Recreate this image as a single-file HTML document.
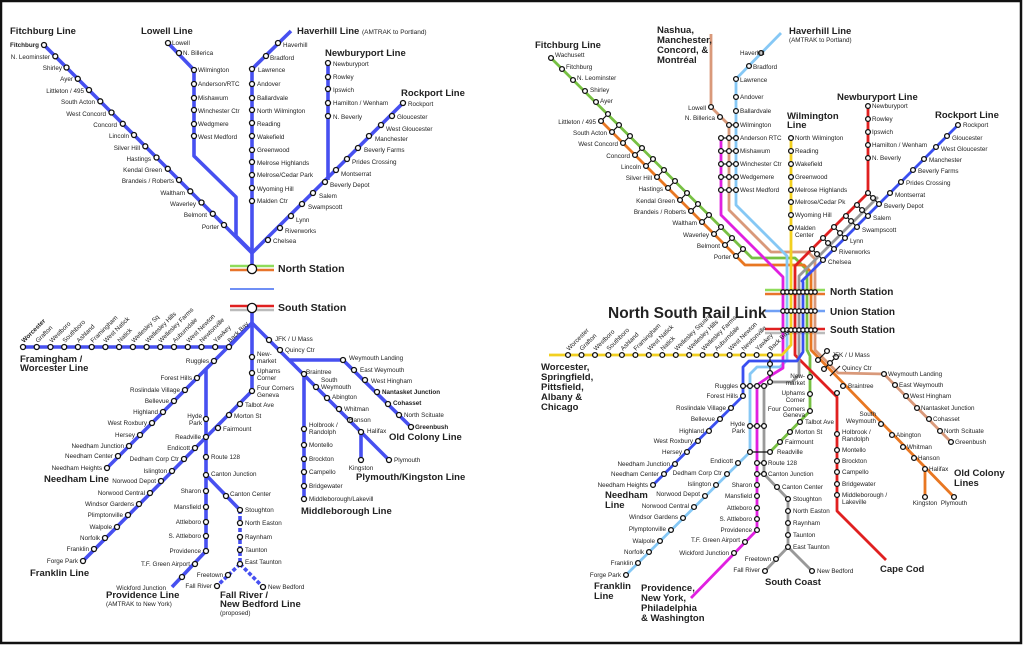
<!DOCTYPE html>
<html><head><meta charset="utf-8"><style>
html,body{margin:0;padding:0;background:#fff}
svg{display:block}
text{font-family:"Liberation Sans",sans-serif;fill:#222}
.t{font-size:6.3px}
.e{text-anchor:end}
.m{text-anchor:middle}
.h{font-size:9.5px;font-weight:bold}
.H{font-size:12px;font-weight:bold}
.L{fill:none;stroke:#4750f0;stroke-width:3.6;stroke-linejoin:round}
.R{fill:none;stroke-width:2.8;stroke-linejoin:round}
circle{fill:#fff;stroke:#111;stroke-width:1.3}
</style></head><body>
<svg width="1024" height="646" viewBox="0 0 1024 646" xmlns="http://www.w3.org/2000/svg">
<rect x="1" y="1" width="1020" height="642" fill="#fff" stroke="#111" stroke-width="2.5"/>

<!-- ============ LEFT MAP ============ -->
<g class="L">
<polyline points="44,45 252,253"/>
<polyline points="168,43 194,70 194,156 236,197 236,236 252,252"/>
<polyline points="291,31 252,69 252,270"/>
<polyline points="328,63 328,180"/>
<polyline points="403,103 252,253"/>
<polyline points="252,307 252,323"/>
<polyline points="22,347 229,347 252,323"/>
<polyline points="252,323 206,369 107,468"/>
<polyline points="206,369 206,551 172,587"/>
<polyline points="252,323 252,391 83,561"/>
<polyline points="206,475 240,510"/>
<polyline points="252,323 290,361 389,460"/>
<polyline points="290,360 343,360 411,427"/>
<polyline points="304,374 304,499"/>
<polyline points="361,432 361,460"/>
<polyline points="240,510 240,564 217,586" stroke-dasharray="4,2"/>
<polyline points="240,564 263,587" stroke-dasharray="4,2"/>
</g>
<line x1="230" y1="266" x2="274" y2="266" stroke="#8fdc5a" stroke-width="2.5"/>
<line x1="230" y1="270" x2="274" y2="270" stroke="#e8742a" stroke-width="2.5"/>
<line x1="230" y1="289" x2="274" y2="289" stroke="#6f8ff5" stroke-width="2"/>
<line x1="230" y1="306" x2="274" y2="306" stroke="#e02020" stroke-width="2.5"/>
<line x1="230" y1="310" x2="274" y2="310" stroke="#bbb" stroke-width="2.5"/>
<circle cx="252" cy="269" r="4.6" stroke-width="2"/>
<circle cx="252" cy="308" r="4.6" stroke-width="2"/>
<text x="278" y="272" class="h" style="font-size:10.5px">North Station</text>
<text x="278" y="311" class="h" style="font-size:10.5px">South Station</text>

<!-- left stations -->
<g>
<circle cx="44" cy="45" r="2.5"/><circle cx="55.3" cy="56.3" r="2.5"/><circle cx="66.5" cy="67.5" r="2.5"/><circle cx="77.8" cy="78.8" r="2.5"/><circle cx="89" cy="90" r="2.5"/><circle cx="100.3" cy="101.3" r="2.5"/><circle cx="111.5" cy="112.5" r="2.5"/><circle cx="122.8" cy="123.8" r="2.5"/><circle cx="134" cy="135" r="2.5"/><circle cx="145.3" cy="146.3" r="2.5"/><circle cx="156.5" cy="157.5" r="2.5"/><circle cx="167.8" cy="168.8" r="2.5"/><circle cx="179" cy="180" r="2.5"/><circle cx="190.3" cy="191.3" r="2.5"/><circle cx="201.5" cy="202.5" r="2.5"/><circle cx="212.8" cy="213.8" r="2.5"/><circle cx="224" cy="225" r="2.5"/>
<circle cx="168" cy="43" r="2.5"/><circle cx="179" cy="53" r="2.5"/><circle cx="194" cy="70" r="2.5"/><circle cx="194" cy="84" r="2.5"/><circle cx="194" cy="98" r="2.5"/><circle cx="194" cy="110" r="2.5"/><circle cx="194" cy="124" r="2.5"/><circle cx="194" cy="136" r="2.5"/>
<circle cx="278" cy="43" r="2.5"/><circle cx="266" cy="56" r="2.5"/><circle cx="252" cy="69" r="2.5"/><circle cx="252" cy="84" r="2.5"/><circle cx="252" cy="98" r="2.5"/><circle cx="252" cy="110" r="2.5"/><circle cx="252" cy="123" r="2.5"/><circle cx="252" cy="136" r="2.5"/><circle cx="252" cy="150" r="2.5"/><circle cx="252" cy="162" r="2.5"/><circle cx="252" cy="175" r="2.5"/><circle cx="252" cy="188" r="2.5"/><circle cx="252" cy="201" r="2.5"/>
<circle cx="328" cy="63" r="2.5"/><circle cx="328" cy="77" r="2.5"/><circle cx="328" cy="89" r="2.5"/><circle cx="328" cy="103" r="2.5"/><circle cx="328" cy="116" r="2.5"/>
<circle cx="403" cy="103" r="2.5"/><circle cx="392" cy="116" r="2.5"/><circle cx="381" cy="125" r="2.5"/><circle cx="369" cy="136" r="2.5"/><circle cx="358" cy="148" r="2.5"/><circle cx="347" cy="159" r="2.5"/><circle cx="336" cy="170" r="2.5"/><circle cx="325" cy="182" r="2.5"/><circle cx="313" cy="193" r="2.5"/><circle cx="302" cy="204" r="2.5"/><circle cx="291" cy="216" r="2.5"/><circle cx="280" cy="228" r="2.5"/><circle cx="268" cy="240" r="2.5"/>
<!-- worcester -->
<circle cx="23" cy="347" r="2.5"/><circle cx="36.7" cy="347" r="2.5"/><circle cx="50.5" cy="347" r="2.5"/><circle cx="64.2" cy="347" r="2.5"/><circle cx="77.9" cy="347" r="2.5"/><circle cx="91.7" cy="347" r="2.5"/><circle cx="105.4" cy="347" r="2.5"/><circle cx="119.1" cy="347" r="2.5"/><circle cx="132.9" cy="347" r="2.5"/><circle cx="146.6" cy="347" r="2.5"/><circle cx="160.3" cy="347" r="2.5"/><circle cx="174" cy="347" r="2.5"/><circle cx="187.8" cy="347" r="2.5"/><circle cx="201.5" cy="347" r="2.5"/><circle cx="215.2" cy="347" r="2.5"/><circle cx="229" cy="347" r="2.5"/>
<!-- needham -->
<circle cx="214" cy="361" r="2.5"/><circle cx="197" cy="378" r="2.5"/><circle cx="185" cy="390" r="2.5"/><circle cx="174" cy="401" r="2.5"/><circle cx="163" cy="412" r="2.5"/><circle cx="152" cy="423" r="2.5"/><circle cx="140" cy="435" r="2.5"/><circle cx="129" cy="446" r="2.5"/><circle cx="118" cy="456" r="2.5"/><circle cx="107" cy="468" r="2.5"/>
<!-- providence -->
<circle cx="206" cy="419" r="2.5"/><circle cx="206" cy="437" r="2.5"/><circle cx="206" cy="457" r="2.5"/><circle cx="206" cy="475" r="2.5"/><circle cx="206" cy="491" r="2.5"/><circle cx="206" cy="507" r="2.5"/><circle cx="206" cy="522" r="2.5"/><circle cx="206" cy="536" r="2.5"/><circle cx="206" cy="551" r="2.5"/><circle cx="195" cy="564" r="2.5"/><circle cx="182" cy="577" r="2.5"/>
<!-- fairmount/franklin -->
<circle cx="252" cy="357" r="2.5"/><circle cx="252" cy="373" r="2.5"/><circle cx="252" cy="391" r="2.5"/><circle cx="240" cy="404" r="2.5"/><circle cx="229" cy="415" r="2.5"/><circle cx="218" cy="428" r="2.5"/><circle cx="195" cy="448" r="2.5"/><circle cx="184" cy="459" r="2.5"/><circle cx="172" cy="471" r="2.5"/><circle cx="161" cy="481" r="2.5"/><circle cx="150" cy="493" r="2.5"/><circle cx="139" cy="504" r="2.5"/><circle cx="128" cy="515" r="2.5"/><circle cx="117" cy="527" r="2.5"/><circle cx="105" cy="538" r="2.5"/><circle cx="94" cy="549" r="2.5"/><circle cx="83" cy="561" r="2.5"/>
<!-- fall river -->
<circle cx="226" cy="496" r="2.5"/><circle cx="240" cy="510" r="2.5"/><circle cx="240" cy="523" r="2.5"/><circle cx="240" cy="537" r="2.5"/><circle cx="240" cy="550" r="2.5"/><circle cx="240" cy="564" r="2.5"/><circle cx="228" cy="575" r="2.5"/><circle cx="217" cy="586" r="2.5"/><circle cx="263" cy="587" r="2.5"/>
<!-- old colony -->
<circle cx="269" cy="340" r="2.5"/><circle cx="280" cy="350" r="2.5"/><circle cx="343" cy="360" r="2.5"/><circle cx="354" cy="370" r="2.5"/><circle cx="365" cy="380" r="2.5"/><circle cx="377" cy="392" r="2.5"/><circle cx="388" cy="404" r="2.5"/><circle cx="399" cy="415" r="2.5"/><circle cx="411" cy="427" r="2.5"/>
<circle cx="304" cy="374" r="2.5"/><circle cx="316" cy="387" r="2.5"/><circle cx="327" cy="398" r="2.5"/><circle cx="339" cy="409" r="2.5"/><circle cx="350" cy="420" r="2.5"/><circle cx="361" cy="432" r="2.5"/><circle cx="389" cy="460" r="2.5"/><circle cx="361" cy="460" r="2.5"/>
<circle cx="304" cy="429" r="2.5"/><circle cx="304" cy="445" r="2.5"/><circle cx="304" cy="459" r="2.5"/><circle cx="304" cy="472" r="2.5"/><circle cx="304" cy="486" r="2.5"/><circle cx="304" cy="499" r="2.5"/>
</g>

<!-- left labels -->
<text x="10" y="34" class="h">Fitchburg Line</text>
<text x="141" y="34" class="h">Lowell Line</text>
<text x="297" y="34" class="h">Haverhill Line <tspan style="font-size:6.5px;font-weight:normal">(AMTRAK to Portland)</tspan></text>
<text x="325" y="56" class="h">Newburyport Line</text>
<text x="401" y="96" class="h">Rockport Line</text>
<g class="t e">
<text x="39" y="47" style="font-weight:bold">Fitchburg</text><text x="50" y="59">N. Leominster</text><text x="62" y="70">Shirley</text><text x="73" y="81">Ayer</text><text x="84" y="93">Littleton / 495</text><text x="95" y="104">South Acton</text><text x="106" y="116">West Concord</text><text x="117" y="127">Concord</text><text x="129" y="138">Lincoln</text><text x="140" y="150">Silver Hill</text><text x="151" y="161">Hastings</text><text x="162" y="172">Kendal Green</text><text x="174" y="183">Brandeis / Roberts</text><text x="185" y="195">Waltham</text><text x="196" y="206">Waverley</text><text x="207" y="217">Belmont</text><text x="219" y="229">Porter</text>
</g>
<g class="t">
<text x="172" y="45">Lowell</text><text x="183" y="55">N. Billerica</text>
<text x="198" y="72">Wilmington</text><text x="198" y="86">Anderson/RTC</text><text x="198" y="100">Mishawum</text><text x="198" y="113">Winchester Ctr</text><text x="198" y="126">Wedgmere</text><text x="198" y="139">West Medford</text>
<text x="283" y="47">Haverhill</text><text x="270" y="60">Bradford</text>
<text x="258" y="72">Lawrence</text><text x="257" y="86">Andover</text><text x="257" y="100">Ballardvale</text><text x="257" y="113">North Wilmington</text><text x="257" y="126">Reading</text><text x="257" y="139">Wakefield</text><text x="257" y="152">Greenwood</text><text x="257" y="165">Melrose Highlands</text><text x="257" y="177">Melrose/Cedar Park</text><text x="257" y="191">Wyoming Hill</text><text x="257" y="203">Malden Ctr</text>
<text x="333" y="66">Newburyport</text><text x="333" y="79">Rowley</text><text x="333" y="92">Ipswich</text><text x="333" y="105">Hamilton / Wenham</text><text x="333" y="119">N. Beverly</text>
<text x="408" y="106">Rockport</text><text x="397" y="119">Gloucester</text><text x="386" y="131">West Gloucester</text><text x="375" y="141">Manchester</text><text x="364" y="152">Beverly Farms</text><text x="352" y="164">Prides Crossing</text><text x="341" y="176">Montserrat</text><text x="330" y="187">Beverly Depot</text><text x="319" y="198">Salem</text><text x="308" y="209">Swampscott</text><text x="296" y="222">Lynn</text><text x="285" y="233">Riverworks</text><text x="273" y="243">Chelsea</text>
</g>
<!-- worcester rotated -->
<g class="t">
<text transform="translate(24,343) rotate(-45)" style="font-weight:bold">Worcester</text>
<text transform="translate(38,343) rotate(-45)">Grafton</text>
<text transform="translate(52,343) rotate(-45)">Westboro</text>
<text transform="translate(65,343) rotate(-45)">Southboro</text>
<text transform="translate(79,343) rotate(-45)">Ashland</text>
<text transform="translate(93,343) rotate(-45)">Framingham</text>
<text transform="translate(106,343) rotate(-45)">West Natick</text>
<text transform="translate(120,343) rotate(-45)">Natick</text>
<text transform="translate(134,343) rotate(-45)">Wellesley Sq</text>
<text transform="translate(148,343) rotate(-45)">Wellesley Hills</text>
<text transform="translate(161,343) rotate(-45)">Wellesley Farms</text>
<text transform="translate(175,343) rotate(-45)">Auburndale</text>
<text transform="translate(189,343) rotate(-45)">West Newton</text>
<text transform="translate(202,343) rotate(-45)">Newtonville</text>
<text transform="translate(216,343) rotate(-45)">Yawkey</text>
<text transform="translate(230,343) rotate(-45)">Back Bay</text>
</g>
<text x="20" y="362" class="h">Framingham /</text>
<text x="20" y="371" class="h">Worcester Line</text>
<g class="t e">
<text x="209" y="363">Ruggles</text><text x="192" y="380">Forest Hills</text><text x="180" y="392">Roslindale Village</text><text x="169" y="403">Bellevue</text><text x="158" y="414">Highland</text><text x="147" y="425">West Roxbury</text><text x="135" y="437">Hersey</text><text x="124" y="448">Needham Junction</text><text x="113" y="458">Needham Center</text><text x="102" y="470">Needham Heights</text>
<text x="202" y="418">Hyde</text><text x="202" y="425">Park</text><text x="201" y="439">Readville</text><text x="190" y="450">Endicott</text><text x="179" y="461">Dedham Corp Ctr</text><text x="167" y="473">Islington</text><text x="156" y="483">Norwood Depot</text><text x="145" y="495">Norwood Central</text><text x="134" y="506">Windsor Gardens</text><text x="123" y="517">Plimptonville</text><text x="112" y="529">Walpole</text><text x="100" y="540">Norfolk</text><text x="89" y="551">Franklin</text><text x="78" y="563">Forge Park</text>
<text x="201" y="493">Sharon</text><text x="201" y="509">Mansfield</text><text x="201" y="524">Attleboro</text><text x="201" y="538">S. Attleboro</text><text x="201" y="553">Providence</text><text x="190" y="566">T.F. Green Airport</text><text x="166" y="590">Wickford Junction</text>
<text x="223" y="577">Freetown</text><text x="212" y="588">Fall River</text>
</g>
<g class="t">
<text x="257" y="356">New-</text><text x="257" y="363">market</text><text x="257" y="373">Uphams</text><text x="257" y="380">Corner</text><text x="257" y="390">Four Corners</text><text x="257" y="397">Geneva</text><text x="245" y="407">Talbot Ave</text><text x="234" y="418">Morton St</text><text x="223" y="431">Fairmount</text>
<text x="211" y="459">Route 128</text><text x="211" y="476">Canton Junction</text><text x="230" y="496">Canton Center</text><text x="245" y="512">Stoughton</text><text x="245" y="525">North Easton</text><text x="245" y="539">Raynham</text><text x="245" y="552">Taunton</text><text x="245" y="564">East Taunton</text><text x="268" y="589">New Bedford</text>
<text x="275" y="341">JFK / U Mass</text><text x="285" y="352">Quincy Ctr</text><text x="349" y="360">Weymouth Landing</text><text x="360" y="372">East Weymouth</text><text x="371" y="383">West Hingham</text><text x="382" y="394" style="font-weight:bold">Nantasket Junction</text><text x="393" y="405" style="font-weight:bold">Cohasset</text><text x="404" y="417">North Scituate</text><text x="415" y="429" style="font-weight:bold">Greenbush</text>
<text x="306" y="374">Braintree</text><text x="321" y="382">South</text><text x="321" y="389">Weymouth</text><text x="332" y="399">Abington</text><text x="344" y="411">Whitman</text><text x="349" y="422">Hanson</text><text x="367" y="433">Halifax</text><text x="394" y="462">Plymouth</text><text x="361" y="470" class="m">Kingston</text>
<text x="309" y="427">Holbrook /</text><text x="309" y="434">Randolph</text><text x="309" y="447">Montello</text><text x="309" y="461">Brockton</text><text x="309" y="474">Campello</text><text x="309" y="488">Bridgewater</text><text x="309" y="501">Middleborough/Lakevill</text>
</g>
<text x="44" y="482" class="h">Needham Line</text>
<text x="30" y="576" class="h">Franklin Line</text>
<text x="106" y="598" class="h">Providence Line</text>
<text x="106" y="606" class="t">(AMTRAK to New York)</text>
<text x="220" y="598" class="h">Fall River /</text>
<text x="220" y="607" class="h">New Bedford Line</text>
<text x="220" y="615" class="t">(proposed)</text>
<text x="389" y="440" class="h">Old Colony Line</text>
<text x="356" y="480" class="h">Plymouth/Kingston Line</text>
<text x="301" y="514" class="h">Middleborough Line</text>

<!-- ============ RIGHT MAP ============ -->
<!-- station horizontal strips -->
<line x1="765" y1="290" x2="825" y2="290" stroke="#8fdc5a" stroke-width="2.5"/>
<line x1="765" y1="294" x2="825" y2="294" stroke="#e8742a" stroke-width="2.5"/>
<line x1="765" y1="311" x2="825" y2="311" stroke="#70a0f5" stroke-width="2.5"/>
<line x1="765" y1="329" x2="825" y2="329" stroke="#e02020" stroke-width="2.5"/>
<line x1="765" y1="333" x2="825" y2="333" stroke="#bbb" stroke-width="2.5"/>
<g class="R">
<polyline stroke="#77c043" points="551,58 752,258 795,258 807,270 807,350 810,356 810,411 770,452"/>
<polyline stroke="#e87722" points="601,121 745,265 804,265 811,272 811,350 954,497"/>
<line stroke="#e87722" x1="925" y1="469" x2="925" y2="497"/>
<polyline stroke="#d9997a" points="711,34 711,107 729,125 729,210 771,252 808,252 815,259 815,350 838,373 884,374 951,442"/>
<polyline stroke="#86c8f5" points="781,33 736,79 736,205 787,256 787,360 780,367 757,367 750,374 750,452 626,575"/>
<polyline stroke="#e020e0" points="721,138 721,215 783,277 783,368 770,376 757,385 757,530 691,598"/>
<polyline stroke="#f2d020" points="791,138 791,345 782,355 549,355"/>
<polyline stroke="#e02020" points="868,106 868,193 795,266 795,355 837,397 837,511 886,560"/>
<polyline stroke="#999" points="878,197 799,276 799,375 792,382 770,382 764,388 764,474 788,499 788,547 765,571"/>
<line stroke="#999" x1="788" y1="547" x2="812" y2="571"/>
<polyline stroke="#3a4ff0" points="958,125 802,281 803,282 803,352 797,361 749,361 743,367 743,396 653,485"/>
</g>
<!-- connectors -->
<g stroke="#111" stroke-width="1.2">
<line x1="601" y1="121" x2="608" y2="114"/><line x1="612" y1="132" x2="619" y2="125"/><line x1="623" y1="143" x2="630" y2="136"/><line x1="635" y1="155" x2="642" y2="148"/><line x1="646" y1="166" x2="653" y2="159"/><line x1="657" y1="177" x2="664" y2="170"/><line x1="668" y1="188" x2="675" y2="181"/><line x1="680" y1="200" x2="687" y2="193"/><line x1="691" y1="211" x2="698" y2="204"/><line x1="702" y1="222" x2="709" y2="215"/><line x1="714" y1="234" x2="721" y2="227"/><line x1="725" y1="245" x2="732" y2="238"/><line x1="736" y1="256" x2="743" y2="249"/>
<line x1="721" y1="138" x2="736" y2="138"/><line x1="721" y1="151" x2="736" y2="151"/><line x1="721" y1="164" x2="736" y2="164"/><line x1="721" y1="177" x2="736" y2="177"/><line x1="721" y1="190" x2="736" y2="190"/><line x1="729" y1="125" x2="736" y2="125"/>
<line x1="868" y1="193" x2="879" y2="204"/><line x1="857" y1="205" x2="868" y2="216"/><line x1="846" y1="216" x2="857" y2="227"/><line x1="834" y1="227" x2="845" y2="238"/><line x1="823" y1="238" x2="834" y2="249"/><line x1="812" y1="249" x2="823" y2="260"/>
<line x1="770" y1="355" x2="770" y2="382"/><line x1="743" y1="386" x2="764" y2="386"/><line x1="750" y1="426" x2="764" y2="426"/><line x1="757" y1="463" x2="764" y2="463"/><line x1="757" y1="474" x2="764" y2="474"/><line x1="750" y1="452" x2="770" y2="452"/>
<line x1="818" y1="360" x2="827" y2="351"/><line x1="824" y1="369" x2="836" y2="357"/><line x1="830" y1="376" x2="840" y2="366"/>
</g>
<g>
<!-- fitchburg green -->
<circle cx="551" cy="58" r="2.4"/><circle cx="562" cy="69" r="2.4"/><circle cx="573" cy="80" r="2.4"/><circle cx="585" cy="91" r="2.4"/><circle cx="596" cy="102" r="2.4"/>
<circle cx="608" cy="114" r="2.4"/><circle cx="619" cy="125" r="2.4"/><circle cx="630" cy="136" r="2.4"/><circle cx="642" cy="148" r="2.4"/><circle cx="653" cy="159" r="2.4"/><circle cx="664" cy="170" r="2.4"/><circle cx="675" cy="181" r="2.4"/><circle cx="687" cy="193" r="2.4"/><circle cx="698" cy="204" r="2.4"/><circle cx="709" cy="215" r="2.4"/><circle cx="721" cy="227" r="2.4"/><circle cx="732" cy="238" r="2.4"/><circle cx="743" cy="249" r="2.4"/>
<circle cx="601" cy="121" r="2.4"/><circle cx="612" cy="132" r="2.4"/><circle cx="623" cy="143" r="2.4"/><circle cx="635" cy="155" r="2.4"/><circle cx="646" cy="166" r="2.4"/><circle cx="657" cy="177" r="2.4"/><circle cx="668" cy="188" r="2.4"/><circle cx="680" cy="200" r="2.4"/><circle cx="691" cy="211" r="2.4"/><circle cx="702" cy="222" r="2.4"/><circle cx="714" cy="234" r="2.4"/><circle cx="725" cy="245" r="2.4"/><circle cx="736" cy="256" r="2.4"/>
<!-- lowell/haverhill -->
<circle cx="711" cy="107" r="2.4"/><circle cx="720" cy="117" r="2.4"/><circle cx="729" cy="125" r="2.4"/><circle cx="736" cy="125" r="2.4"/>
<circle cx="761" cy="53" r="2.4"/><circle cx="749" cy="66" r="2.4"/><circle cx="736" cy="79" r="2.4"/><circle cx="736" cy="97" r="2.4"/><circle cx="736" cy="111" r="2.4"/>
<circle cx="721" cy="138" r="2.4"/><circle cx="729" cy="138" r="2.4"/><circle cx="736" cy="138" r="2.4"/>
<circle cx="721" cy="151" r="2.4"/><circle cx="729" cy="151" r="2.4"/><circle cx="736" cy="151" r="2.4"/>
<circle cx="721" cy="164" r="2.4"/><circle cx="729" cy="164" r="2.4"/><circle cx="736" cy="164" r="2.4"/>
<circle cx="721" cy="177" r="2.4"/><circle cx="729" cy="177" r="2.4"/><circle cx="736" cy="177" r="2.4"/>
<circle cx="721" cy="190" r="2.4"/><circle cx="729" cy="190" r="2.4"/><circle cx="736" cy="190" r="2.4"/>
<!-- wilmington -->
<circle cx="791" cy="138" r="2.4"/><circle cx="791" cy="151" r="2.4"/><circle cx="791" cy="164" r="2.4"/><circle cx="791" cy="177" r="2.4"/><circle cx="791" cy="190" r="2.4"/><circle cx="791" cy="202" r="2.4"/><circle cx="791" cy="215" r="2.4"/><circle cx="791" cy="228" r="2.4"/>
<!-- newburyport -->
<circle cx="868" cy="106" r="2.4"/><circle cx="868" cy="119" r="2.4"/><circle cx="868" cy="132" r="2.4"/><circle cx="868" cy="145" r="2.4"/><circle cx="868" cy="158" r="2.4"/>
<!-- rockport -->
<circle cx="958" cy="125" r="2.4"/><circle cx="947" cy="136" r="2.4"/><circle cx="936" cy="147" r="2.4"/><circle cx="924" cy="159" r="2.4"/><circle cx="913" cy="170" r="2.4"/><circle cx="901" cy="182" r="2.4"/><circle cx="890" cy="193" r="2.4"/>
<circle cx="879" cy="204" r="2.4"/><circle cx="873" cy="198" r="2.4"/><circle cx="868" cy="193" r="2.4"/>
<circle cx="868" cy="216" r="2.4"/><circle cx="862" cy="210" r="2.4"/><circle cx="857" cy="205" r="2.4"/>
<circle cx="857" cy="227" r="2.4"/><circle cx="851" cy="221" r="2.4"/><circle cx="846" cy="216" r="2.4"/>
<circle cx="845" cy="238" r="2.4"/><circle cx="840" cy="233" r="2.4"/><circle cx="834" cy="227" r="2.4"/>
<circle cx="834" cy="249" r="2.4"/><circle cx="828" cy="243" r="2.4"/><circle cx="823" cy="238" r="2.4"/>
<circle cx="823" cy="260" r="2.4"/><circle cx="817" cy="254" r="2.4"/><circle cx="812" cy="249" r="2.4"/>
<!-- trunk stations -->
<circle cx="783" cy="292" r="2.2"/><circle cx="787" cy="292" r="2.2"/><circle cx="791" cy="292" r="2.2"/><circle cx="795" cy="292" r="2.2"/><circle cx="799" cy="292" r="2.2"/><circle cx="803" cy="292" r="2.2"/><circle cx="807" cy="292" r="2.2"/><circle cx="811" cy="292" r="2.2"/><circle cx="815" cy="292" r="2.2"/>
<circle cx="783" cy="311" r="2.2"/><circle cx="787" cy="311" r="2.2"/><circle cx="791" cy="311" r="2.2"/><circle cx="795" cy="311" r="2.2"/><circle cx="799" cy="311" r="2.2"/><circle cx="803" cy="311" r="2.2"/><circle cx="807" cy="311" r="2.2"/><circle cx="811" cy="311" r="2.2"/><circle cx="815" cy="311" r="2.2"/>
<circle cx="783" cy="330" r="2.2"/><circle cx="787" cy="330" r="2.2"/><circle cx="791" cy="330" r="2.2"/><circle cx="795" cy="330" r="2.2"/><circle cx="799" cy="330" r="2.2"/><circle cx="803" cy="330" r="2.2"/><circle cx="807" cy="330" r="2.2"/><circle cx="811" cy="330" r="2.2"/><circle cx="815" cy="330" r="2.2"/>
<!-- worcester right -->
<circle cx="568" cy="355" r="2.4"/><circle cx="581.5" cy="355" r="2.4"/><circle cx="595" cy="355" r="2.4"/><circle cx="608.4" cy="355" r="2.4"/><circle cx="621.9" cy="355" r="2.4"/><circle cx="635.4" cy="355" r="2.4"/><circle cx="648.8" cy="355" r="2.4"/><circle cx="662.3" cy="355" r="2.4"/><circle cx="675.8" cy="355" r="2.4"/><circle cx="689.2" cy="355" r="2.4"/><circle cx="702.7" cy="355" r="2.4"/><circle cx="716.2" cy="355" r="2.4"/><circle cx="729.6" cy="355" r="2.4"/><circle cx="743.1" cy="355" r="2.4"/><circle cx="756.6" cy="355" r="2.4"/><circle cx="770" cy="355" r="2.4"/>
<circle cx="770" cy="364" r="2.4"/><circle cx="770" cy="373" r="2.4"/><circle cx="770" cy="382" r="2.4"/>
<!-- ruggles etc -->
<circle cx="743" cy="386" r="2.4"/><circle cx="750" cy="386" r="2.4"/><circle cx="757" cy="386" r="2.4"/><circle cx="764" cy="386" r="2.4"/>
<circle cx="743" cy="396" r="2.4"/><circle cx="731" cy="408" r="2.4"/><circle cx="720" cy="419" r="2.4"/><circle cx="709" cy="431" r="2.4"/><circle cx="698" cy="441" r="2.4"/><circle cx="687" cy="452" r="2.4"/><circle cx="675" cy="464" r="2.4"/><circle cx="664" cy="474" r="2.4"/><circle cx="653" cy="485" r="2.4"/>
<circle cx="750" cy="426" r="2.4"/><circle cx="757" cy="426" r="2.4"/><circle cx="764" cy="426" r="2.4"/>
<circle cx="750" cy="452" r="2.4"/><circle cx="770" cy="452" r="2.4"/>
<circle cx="738" cy="463" r="2.4"/><circle cx="727" cy="474" r="2.4"/><circle cx="716" cy="485" r="2.4"/><circle cx="705" cy="496" r="2.4"/><circle cx="694" cy="507" r="2.4"/><circle cx="683" cy="518" r="2.4"/><circle cx="671" cy="530" r="2.4"/><circle cx="660" cy="541" r="2.4"/><circle cx="649" cy="552" r="2.4"/><circle cx="638" cy="563" r="2.4"/><circle cx="626" cy="575" r="2.4"/>
<circle cx="757" cy="463" r="2.4"/><circle cx="764" cy="463" r="2.4"/><circle cx="757" cy="474" r="2.4"/><circle cx="764" cy="474" r="2.4"/>
<circle cx="757" cy="485" r="2.4"/><circle cx="757" cy="496" r="2.4"/><circle cx="757" cy="508" r="2.4"/><circle cx="757" cy="519" r="2.4"/><circle cx="757" cy="530" r="2.4"/><circle cx="745" cy="542" r="2.4"/><circle cx="734" cy="553" r="2.4"/>
<circle cx="777" cy="487" r="2.4"/><circle cx="788" cy="499" r="2.4"/><circle cx="788" cy="511" r="2.4"/><circle cx="788" cy="523" r="2.4"/><circle cx="788" cy="535" r="2.4"/><circle cx="788" cy="547" r="2.4"/><circle cx="776" cy="559" r="2.4"/><circle cx="765" cy="571" r="2.4"/><circle cx="812" cy="571" r="2.4"/>
<!-- fairmount -->
<circle cx="810" cy="377" r="2.4"/><circle cx="810" cy="394" r="2.4"/><circle cx="810" cy="411" r="2.4"/><circle cx="800" cy="422" r="2.4"/><circle cx="790" cy="432" r="2.4"/><circle cx="780" cy="442" r="2.4"/>
<!-- jfk/quincy/braintree -->
<circle cx="818" cy="360" r="2.4"/><circle cx="827" cy="351" r="2.4"/><circle cx="824" cy="369" r="2.4"/><circle cx="830" cy="363" r="2.4"/><circle cx="836" cy="357" r="2.4"/><circle cx="837" cy="393" r="2.4"/><circle cx="843" cy="386" r="2.4"/>
<!-- red -->
<circle cx="837" cy="434" r="2.4"/><circle cx="837" cy="450" r="2.4"/><circle cx="837" cy="461" r="2.4"/><circle cx="837" cy="472" r="2.4"/><circle cx="837" cy="484" r="2.4"/><circle cx="837" cy="495" r="2.4"/>
<!-- orange -->
<circle cx="881" cy="424" r="2.4"/><circle cx="892" cy="435" r="2.4"/><circle cx="903" cy="447" r="2.4"/><circle cx="914" cy="458" r="2.4"/><circle cx="925" cy="469" r="2.4"/><circle cx="954" cy="497" r="2.4"/><circle cx="925" cy="497" r="2.4"/>
<!-- tan -->
<circle cx="884" cy="374" r="2.4"/><circle cx="895" cy="385" r="2.4"/><circle cx="906" cy="396" r="2.4"/><circle cx="917" cy="408" r="2.4"/><circle cx="929" cy="419" r="2.4"/><circle cx="940" cy="431" r="2.4"/><circle cx="951" cy="442" r="2.4"/>
</g>

<!-- right labels -->
<text x="535" y="48" class="h">Fitchburg Line</text>
<text x="657" y="33" class="h">Nashua,</text>
<text x="657" y="43" class="h">Manchester,</text>
<text x="657" y="53" class="h">Concord, &amp;</text>
<text x="657" y="63" class="h">Montréal</text>
<text x="789" y="34" class="h">Haverhill Line</text>
<text x="789" y="42" class="t">(AMTRAK to Portland)</text>
<text x="787" y="119" class="h">Wilmington</text>
<text x="787" y="128" class="h">Line</text>
<text x="837" y="100" class="h">Newburyport Line</text>
<text x="935" y="118" class="h">Rockport Line</text>
<text x="830" y="295" class="h" style="font-size:10px">North Station</text>
<text x="830" y="315" class="h" style="font-size:10px">Union Station</text>
<text x="830" y="333" class="h" style="font-size:10px">South Station</text>
<text x="608" y="318" class="H" style="font-size:15.5px">North South Rail Link</text>
<g class="t">
<text x="555" y="57">Wachusett</text><text x="566" y="69">Fitchburg</text><text x="577" y="80">N. Leominster</text><text x="590" y="92">Shirley</text><text x="600" y="103">Ayer</text>
<text x="740" y="55">Haverhill</text><text x="753" y="69">Bradford</text><text x="740" y="82">Lawrence</text><text x="740" y="99">Andover</text><text x="740" y="113">Ballardvale</text><text x="740" y="127">Wilmington</text><text x="740" y="140">Anderson RTC</text><text x="740" y="153">Mishawum</text><text x="740" y="166">Winchester Ctr</text><text x="740" y="179">Wedgemere</text><text x="740" y="192">West Medford</text>
<text x="795" y="140">North Wilmington</text><text x="795" y="153">Reading</text><text x="795" y="166">Wakefield</text><text x="795" y="179">Greenwood</text><text x="795" y="192">Melrose Highlands</text><text x="795" y="204">Melrose/Cedar Pk</text><text x="795" y="217">Wyoming Hill</text><text x="795" y="230">Malden</text><text x="795" y="237">Center</text>
<text x="872" y="108">Newburyport</text><text x="872" y="121">Rowley</text><text x="872" y="134">Ipswich</text><text x="872" y="147">Hamilton / Wenham</text><text x="872" y="160">N. Beverly</text>
<text x="963" y="127">Rockport</text><text x="952" y="140">Gloucester</text><text x="941" y="151">West Gloucester</text><text x="929" y="162">Manchester</text><text x="918" y="173">Beverly Farms</text><text x="906" y="185">Prides Crossing</text><text x="895" y="197">Montserrat</text><text x="884" y="208">Beverly Depot</text><text x="873" y="220">Salem</text><text x="862" y="232">Swampscott</text><text x="850" y="243">Lynn</text><text x="839" y="254">Riverworks</text><text x="828" y="264">Chelsea</text>
<text x="832" y="357">JFK / U Mass</text><text x="842" y="370">Quincy Ctr</text><text x="848" y="388">Braintree</text><text x="888" y="376">Weymouth Landing</text><text x="899" y="387">East Weymouth</text><text x="910" y="398">West Hingham</text><text x="921" y="410">Nantasket Junction</text><text x="933" y="421">Cohasset</text><text x="944" y="433">North Scituate</text><text x="955" y="444">Greenbush</text>
<text x="842" y="434">Holbrook /</text><text x="842" y="441">Randolph</text><text x="842" y="452">Montello</text><text x="842" y="463">Brockton</text><text x="842" y="474">Campello</text><text x="842" y="486">Bridgewater</text><text x="842" y="497">Middleborough /</text><text x="842" y="504">Lakeville</text>
<text x="896" y="437">Abington</text><text x="907" y="449">Whitman</text><text x="918" y="460">Hanson</text><text x="929" y="471">Halifax</text>
<text x="925" y="505" class="m">Kingston</text><text x="954" y="505" class="m">Plymouth</text>
<text x="805" y="424">Talbot Ave</text><text x="795" y="434">Morton St</text><text x="785" y="444">Fairmount</text><text x="777" y="454">Readville</text>
<text x="768" y="465">Route 128</text><text x="768" y="476">Canton Junction</text><text x="782" y="489">Canton Center</text><text x="793" y="501">Stoughton</text><text x="793" y="513">North Easton</text><text x="793" y="525">Raynham</text><text x="793" y="537">Taunton</text><text x="793" y="549">East Taunton</text><text x="817" y="573">New Bedford</text>
</g>
<g class="t e">
<text x="876" y="416">South</text><text x="876" y="423">Weymouth</text>
<text x="805" y="378">New-</text><text x="805" y="385">market</text><text x="805" y="395">Uphams</text><text x="805" y="402">Corner</text><text x="805" y="411">Four Corners</text><text x="805" y="417">Geneva</text>
<text x="706" y="110">Lowell</text><text x="715" y="120">N. Billerica</text>
<text x="596" y="124">Littleton / 495</text><text x="607" y="135">South Acton</text><text x="618" y="146">West Concord</text><text x="630" y="158">Concord</text><text x="641" y="169">Lincoln</text><text x="652" y="180">Silver Hill</text><text x="663" y="191">Hastings</text><text x="675" y="203">Kendal Green</text><text x="686" y="214">Brandeis / Roberts</text><text x="697" y="225">Waltham</text><text x="709" y="237">Waverley</text><text x="720" y="248">Belmont</text><text x="731" y="259">Porter</text>
<text x="738" y="388">Ruggles</text><text x="738" y="398">Forest Hills</text><text x="726" y="410">Roslindale Village</text><text x="715" y="421">Bellevue</text><text x="704" y="433">Highland</text><text x="693" y="443">West Roxbury</text><text x="682" y="454">Hersey</text><text x="670" y="466">Needham Junction</text><text x="659" y="476">Needham Center</text><text x="648" y="487">Needham Heights</text>
<text x="745" y="426">Hyde</text><text x="745" y="433">Park</text><text x="733" y="463">Endicott</text><text x="722" y="475">Dedham Corp Ctr</text><text x="711" y="486">Islington</text><text x="700" y="496">Norwood Depot</text><text x="689" y="508">Norwood Central</text><text x="678" y="519">Windsor Gardens</text><text x="666" y="531">Plymptonville</text><text x="655" y="543">Walpole</text><text x="644" y="554">Norfolk</text><text x="633" y="565">Franklin</text><text x="621" y="577">Forge Park</text>
<text x="752" y="487">Sharon</text><text x="752" y="498">Mansfield</text><text x="752" y="510">Attleboro</text><text x="752" y="521">S. Attleboro</text><text x="752" y="532">Providence</text><text x="740" y="542">T.F. Green Airport</text><text x="729" y="555">Wickford Junction</text>
<text x="771" y="561">Freetown</text><text x="760" y="572">Fall River</text>
</g>
<g class="t">
<text transform="translate(569,351) rotate(-45)">Worcester</text>
<text transform="translate(582,351) rotate(-45)">Grafton</text>
<text transform="translate(596,351) rotate(-45)">Westboro</text>
<text transform="translate(609,351) rotate(-45)">Southboro</text>
<text transform="translate(623,351) rotate(-45)">Ashland</text>
<text transform="translate(636,351) rotate(-45)">Framingham</text>
<text transform="translate(650,351) rotate(-45)">West Natick</text>
<text transform="translate(663,351) rotate(-45)">Natick</text>
<text transform="translate(677,351) rotate(-45)">Wellesley Square</text>
<text transform="translate(690,351) rotate(-45)">Wellesley Hills</text>
<text transform="translate(704,351) rotate(-45)">Wellesley Farms</text>
<text transform="translate(717,351) rotate(-45)">Auburndale</text>
<text transform="translate(731,351) rotate(-45)">West Newton</text>
<text transform="translate(744,351) rotate(-45)">Newtonville</text>
<text transform="translate(758,351) rotate(-45)">Yawkey</text>
<text transform="translate(771,351) rotate(-45)">Back Bay</text>
</g>
<g class="h">
<text x="541" y="370">Worcester,</text><text x="541" y="380">Springfield,</text><text x="541" y="390">Pittsfield,</text><text x="541" y="400">Albany &amp;</text><text x="541" y="410">Chicago</text>
<text x="605" y="498">Needham</text><text x="605" y="508">Line</text>
<text x="594" y="589">Franklin</text><text x="594" y="599">Line</text>
<text x="641" y="591">Providence,</text><text x="641" y="601">New York,</text><text x="641" y="611">Philadelphia</text><text x="641" y="621">&amp; Washington</text>
<text x="765" y="585">South Coast</text>
<text x="880" y="572">Cape Cod</text>
<text x="954" y="476">Old Colony</text><text x="954" y="486">Lines</text>
</g>
</svg>
</body></html>
